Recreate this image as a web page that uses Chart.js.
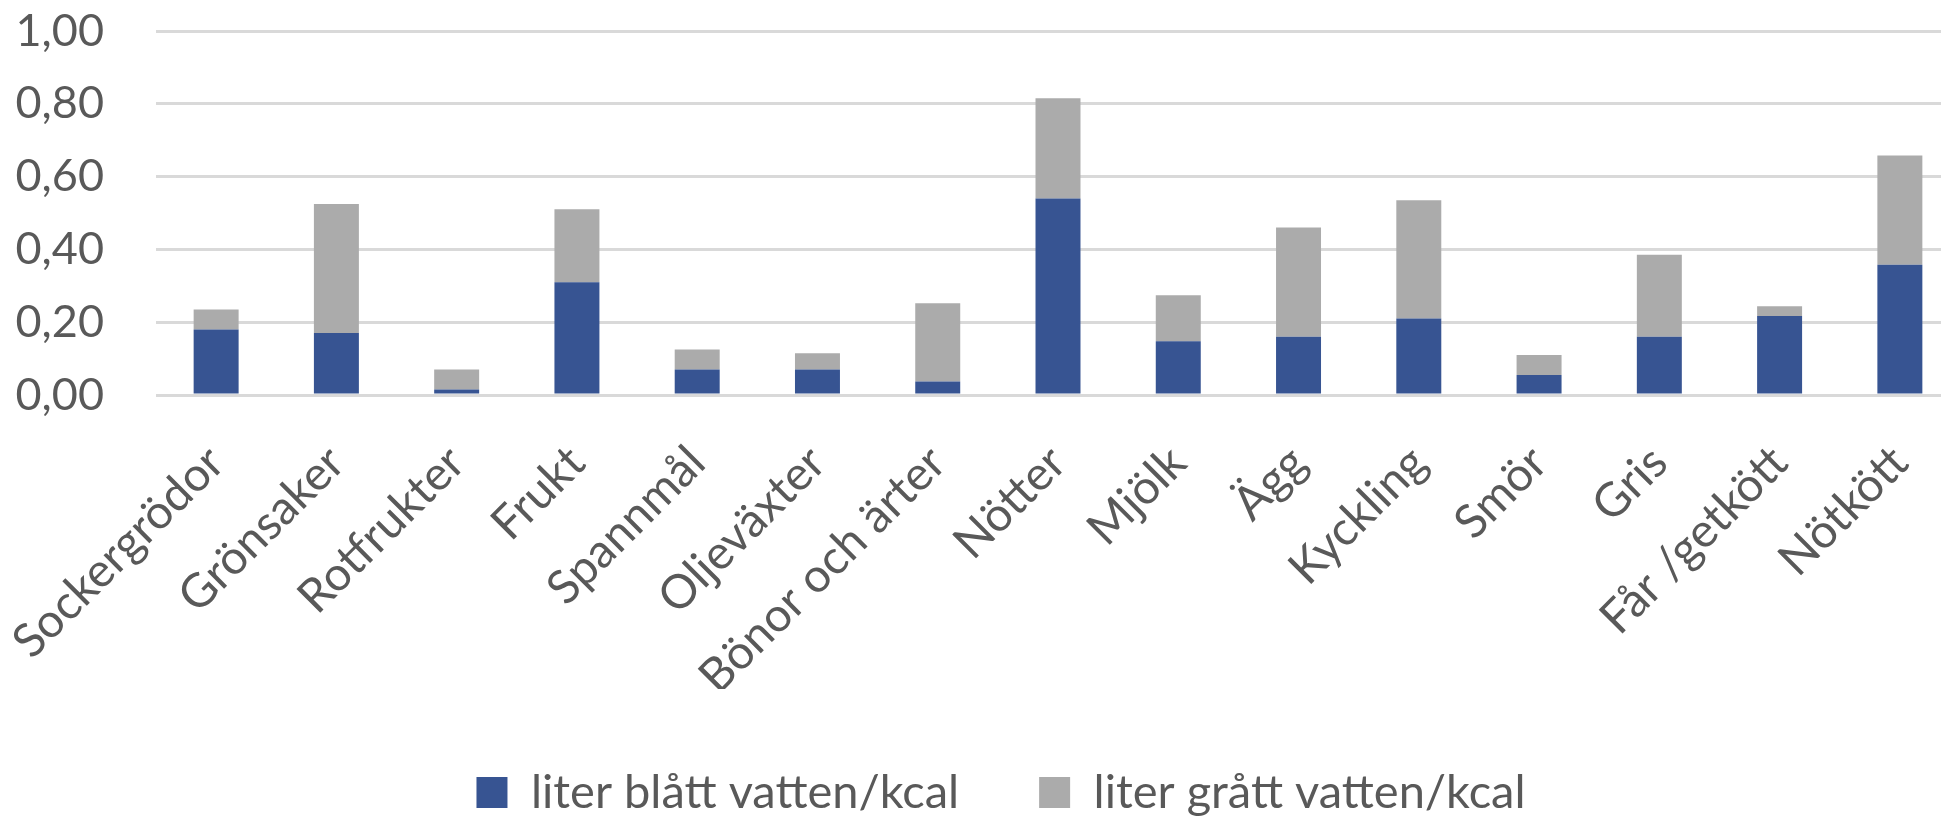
<!DOCTYPE html>
<html lang="sv">
<head>
<meta charset="UTF-8">
<title>Vatten per kcal</title>
<style>
  html, body { margin: 0; padding: 0; background: #ffffff; overflow: hidden; }
  #wrap { position: relative; width: 1962px; height: 826px; }
</style>
</head>
<body>
<div id="wrap"><canvas id="chart"></canvas></div>
<script src="https://cdn.jsdelivr.net/npm/chart.js"></script>
<script>
const categories = ['Sockergrödor', 'Grönsaker', 'Rotfrukter', 'Frukt', 'Spannmål', 'Oljeväxter',
  'Bönor och ärter', 'Nötter', 'Mjölk', 'Ägg', 'Kyckling', 'Smör', 'Gris', 'Får /getkött', 'Nötkött'];
const blueWater = [0.18, 0.17, 0.015, 0.31, 0.07, 0.07, 0.037, 0.54, 0.148, 0.16, 0.21, 0.055, 0.16, 0.217, 0.358];
const greyWater = [0.055, 0.355, 0.055, 0.20, 0.055, 0.045, 0.215, 0.275, 0.126, 0.30, 0.325, 0.055, 0.225, 0.027, 0.30];
const seriesNames = ['liter blått vatten/kcal', 'liter grått vatten/kcal'];
const yTickLabels = ['0,00', '0,20', '0,40', '0,60', '0,80', '1,00'];

const textColor = '#595959';
const fontFamily = 'Lato, "Open Sans", sans-serif';

// legend is centred a little right of the canvas middle in the original
const shiftLegend = {
  id: 'shiftLegend',
  afterLayout(chart) {
    chart.legend.left += 42;
  }
};

new Chart(document.getElementById('chart'), {
  type: 'bar',
  data: {
    labels: categories,
    datasets: [
      { label: seriesNames[0], data: blueWater, backgroundColor: '#375492' },
      { label: seriesNames[1], data: greyWater, backgroundColor: '#ababab' }
    ]
  },
  plugins: [shiftLegend],
  options: {
    responsive: true,
    maintainAspectRatio: false,
    animation: false,
    datasets: { bar: { barPercentage: 0.374, categoryPercentage: 1 } },
    layout: { padding: { left: 0, right: 2, top: 31, bottom: 0 } },
    plugins: {
      tooltip: { enabled: false },
      legend: {
        position: 'bottom',
        labels: {
          boxWidth: 31,
          boxHeight: 31,
          padding: 80,
          color: textColor,
          font: { family: fontFamily, size: 47 }
        }
      }
    },
    scales: {
      x: {
        stacked: true,
        grid: { display: false, drawTicks: false },
        border: { display: false },
        ticks: {
          color: textColor,
          font: { family: fontFamily, size: 47 },
          maxRotation: 45,
          minRotation: 45,
          autoSkip: false,
          padding: 40
        },
        afterFit: (scale) => {
          scale.height = 294;
          scale.paddingLeft = 0;
          scale.paddingRight = 0;
        }
      },
      y: {
        stacked: true,
        min: 0,
        max: 1,
        grid: { color: '#d9d9d9', lineWidth: 3, drawTicks: false },
        border: { display: false },
        ticks: {
          stepSize: 0.2,
          color: textColor,
          font: { family: fontFamily, size: 45 },
          padding: 52,
          callback: (v, i) => yTickLabels[i]
        },
        afterFit: (scale) => {
          scale.width = 156;
          scale.paddingTop = 0;
          scale.paddingBottom = 0;
        }
      }
    }
  }
});
</script>
</body>
</html>
